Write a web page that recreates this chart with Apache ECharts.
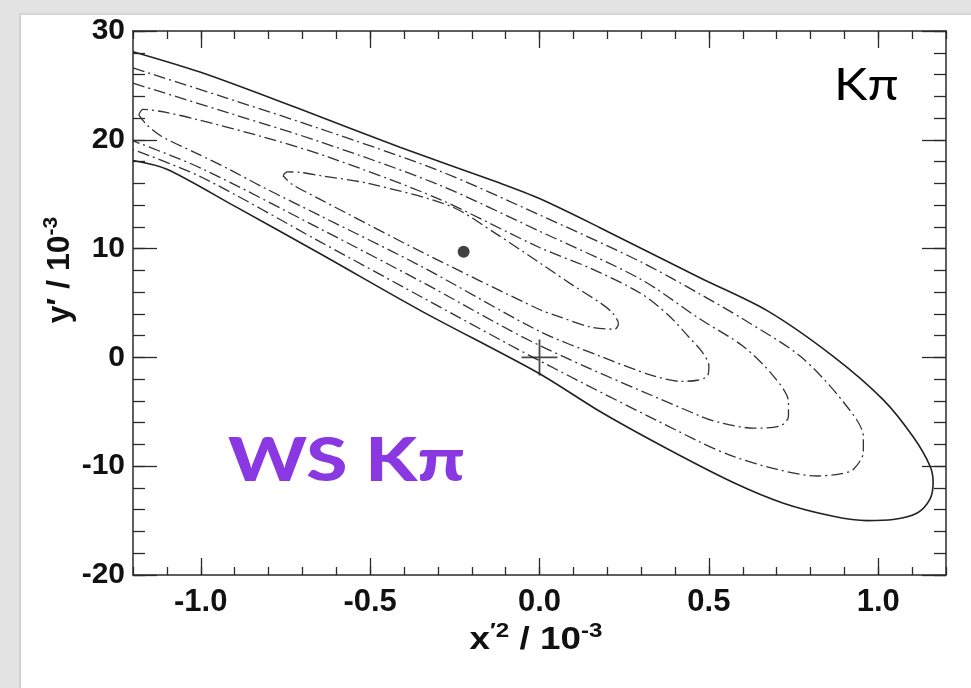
<!DOCTYPE html>
<html>
<head>
<meta charset="utf-8">
<script src="https://cdn.jsdelivr.net/npm/echarts@6/dist/echarts.min.js"></script>
<style>
  html, body { margin: 0; padding: 0; background: #ffffff; }
  #chart { width: 971px; height: 688px; }
</style>
</head>
<body>
<div id="chart"></div>
<script>
// Tick positions
const xMajorTicks = [-1.0, -0.5, 0.0, 0.5, 1.0];
const yMajorTicks = [-20, -10, 0, 10, 20, 30];

// Outermost (solid) contour, runs off the left edge of the frame
const contourSolid = [
  [-1.2, 28.1], [-1.0, 26.2], [-0.705, 22.8], [-0.41, 19.3], [-0.115, 16.0], [0.0, 14.6],
  [0.18, 11.9], [0.475, 7.3], [0.672, 4.3], [0.867, 0.1], [1.015, -3.9], [1.103, -7.3],
  [1.153, -10.0], [1.162, -11.5], [1.153, -13.0], [1.115, -14.3], [1.044, -14.9], [0.967, -15.0],
  [0.867, -14.6], [0.72, -13.4], [0.572, -11.5], [0.377, -8.4], [0.18, -5.0], [0.0, -1.5],
  [-0.351, 4.3], [-0.646, 9.5], [-0.9, 13.9], [-1.1, 17.3], [-1.2, 18.1]
];

// Dash-dot contours, from outer to inner
const contourA = [
  [-1.2, 26.6], [-0.9, 23.6], [-0.646, 21.0], [-0.3, 17.2], [0.0, 13.1], [0.298, 8.8],
  [0.475, 5.8], [0.602, 3.5], [0.77, 0.1], [0.897, -4.1], [0.956, -7.3], [0.956, -8.7],
  [0.926, -10.3], [0.888, -10.7], [0.82, -10.9], [0.702, -10.3], [0.572, -9.1], [0.475, -7.8],
  [0.0, -0.3], [-0.351, 5.6], [-0.646, 10.6], [-1.0, 16.6], [-1.2, 19.1]
];
const contourB = [
  [-1.2, 25.2], [-0.9, 22.3], [-0.646, 19.8], [-0.3, 15.9], [0.0, 11.6], [0.298, 7.2],
  [0.475, 3.5], [0.602, 1.0], [0.69, -1.7], [0.735, -4.1], [0.735, -5.4], [0.711, -6.3],
  [0.631, -6.5], [0.534, -6.0], [0.475, -5.4], [0.0, 1.1], [-0.351, 7.0], [-0.646, 11.8],
  [-1.0, 17.4], [-1.2, 19.9]
];
const contourC = [
  [-1.183, 22.3], [-1.17, 22.8], [-1.1, 22.5], [-1.016, 21.9], [-0.82, 20.3], [-0.622, 18.4],
  [-0.3, 14.6], [0.0, 10.1], [0.15, 8.2], [0.298, 5.9], [0.38, 3.9], [0.44, 1.9], [0.48, 0.5],
  [0.5, -0.8], [0.496, -1.7], [0.466, -2.1], [0.416, -2.2], [0.327, -1.6], [0.18, 0.1], [0.0, 2.4],
  [-0.351, 8.4], [-0.646, 13.0], [-0.82, 15.7], [-0.917, 17.3], [-1.015, 18.8], [-1.115, 20.3],
  [-1.16, 21.4], [-1.183, 22.3]
];
const contourD = [
  [-0.757, 16.7], [-0.745, 17.05], [-0.705, 17.0], [-0.646, 16.7], [-0.507, 16.0], [-0.263, 13.9],
  [-0.13, 11.4], [0.0, 8.7], [0.1, 6.6], [0.18, 5.0], [0.215, 4.1], [0.233, 3.1],
  [0.222, 2.6], [0.15, 2.8], [0.062, 3.7], [0.0, 4.4], [-0.342, 9.6], [-0.646, 14.5],
  [-0.73, 15.9], [-0.757, 16.7]
];

// Best-fit point and the no-mixing point
const bestFit = [[-0.224, 9.7]];
const noMixing = [[0.0, 0.0]];

const axisColor = '#2a2a2a';
const xLabelFont = { fontFamily: 'Liberation Sans', fontWeight: 'bold', fontSize: 31, color: '#111' };
const yLabelFont = { fontFamily: 'Liberation Sans', fontWeight: 'bold', fontSize: 30, color: '#111' };

function xAxisDef(position, major, labels) {
  const ax = {
    type: 'value', gridIndex: 0, position: position, min: -1.2, max: 1.2,
    axisLine: { show: major, onZero: false, lineStyle: { color: axisColor, width: 1.5 } },
    axisTick: { show: true, inside: true, length: major ? 17 : 8, lineStyle: { color: axisColor, width: 1.3 } },
    axisLabel: Object.assign({ show: labels, margin: 12, formatter: v => v.toFixed(1) }, xLabelFont),
    splitLine: { show: false }
  };
  if (major) {
    ax.axisTick.customValues = xMajorTicks;
    ax.axisLabel.customValues = xMajorTicks;
  } else {
    ax.interval = 0.1;
  }
  return ax;
}

function yAxisDef(position, major, labels) {
  return {
    type: 'value', gridIndex: 0, position: position, min: -20, max: 30,
    interval: major ? 10 : 2,
    axisLine: { show: major, onZero: false, lineStyle: { color: axisColor, width: 1.5 } },
    axisTick: { show: true, inside: true, length: major ? 24 : 12, lineStyle: { color: axisColor, width: 1.3 } },
    axisLabel: Object.assign({ show: labels, margin: 8, formatter: v => String(v) }, yLabelFont),
    splitLine: { show: false }
  };
}

const dashDot = { color: '#333', width: 1.3, type: [12, 4, 2, 4] };

function contourSeries(name, data, lineStyle) {
  return {
    name: name, type: 'line', xAxisIndex: 0, yAxisIndex: 0,
    data: data, showSymbol: false, symbol: 'none', smooth: 0.3,
    lineStyle: lineStyle, clip: true, silent: true, animation: false, z: 3
  };
}

const titleRich = {
  m: { fontFamily: 'Liberation Sans', fontWeight: 'bold', fontSize: 32, lineHeight: 38, fill: '#111' },
  s: { fontFamily: 'Liberation Sans', fontWeight: 'bold', fontSize: 21, lineHeight: 21, verticalAlign: 'top', fill: '#111' }
};

const chart = echarts.init(document.getElementById('chart'), null, { renderer: 'canvas' });

chart.setOption({
  animation: false,
  backgroundColor: '#ffffff',
  grid: { left: 133, top: 31, right: 25, bottom: 113, containLabel: false, outerBoundsMode: 'none' },
  xAxis: [
    xAxisDef('bottom', true, true),
    xAxisDef('bottom', false, false),
    xAxisDef('top', true, false),
    xAxisDef('top', false, false)
  ],
  yAxis: [
    yAxisDef('left', true, true),
    yAxisDef('left', false, false),
    yAxisDef('right', true, false),
    yAxisDef('right', false, false)
  ],
  series: [
    contourSeries('solid', contourSolid, { color: '#222', width: 1.6, type: 'solid' }),
    contourSeries('A', contourA, dashDot),
    contourSeries('B', contourB, dashDot),
    contourSeries('C', contourC, dashDot),
    contourSeries('D', contourD, dashDot),
    {
      name: 'best fit', type: 'scatter', xAxisIndex: 0, yAxisIndex: 0,
      data: bestFit, symbol: 'circle', symbolSize: 12,
      itemStyle: { color: '#111' }, silent: true, z: 4
    },
    {
      name: 'no mixing', type: 'scatter', xAxisIndex: 0, yAxisIndex: 0,
      data: noMixing, symbol: 'path://M10,0L10,20M0,10L20,10', symbolSize: 36,
      itemStyle: { color: 'none', borderColor: '#1a1a1a', borderWidth: 1.8 }, silent: true, z: 4
    }
  ],
  graphic: [
    // light grey page margins
    { type: 'rect', shape: { x: 0, y: 0, width: 21, height: 688 }, style: { fill: '#e3e3e3' }, z: -10, silent: true },
    { type: 'rect', shape: { x: 0, y: 0, width: 971, height: 15 }, style: { fill: '#e3e3e3' }, z: -10, silent: true },
    { type: 'rect', shape: { x: 19, y: 13, width: 2, height: 675 }, style: { fill: '#d2d2d2' }, z: -9, silent: true },
    { type: 'rect', shape: { x: 19, y: 13, width: 952, height: 2 }, style: { fill: '#d6d6d6' }, z: -9, silent: true },
    // axis titles
    {
      type: 'text', x: 536, y: 640, scaleX: 1.15, z: 10, silent: true,
      style: { text: '{m|x}{s|′2}{m| / 10}{s|-3}', align: 'center', verticalAlign: 'middle', rich: titleRich }
    },
    {
      type: 'text', x: 60, y: 270, rotation: Math.PI / 2, z: 10, silent: true,
      style: { text: '{m|y′ / 10}{s|-3}', align: 'center', verticalAlign: 'middle', rich: titleRich }
    },
    // channel labels
    {
      type: 'text', x: 834, y: 108, z: 10, silent: true, scaleX: 1.12,
      style: { text: 'Kπ', fontFamily: 'Lato', fontWeight: 'normal', fontSize: 45, fill: '#000', align: 'left', verticalAlign: 'bottom' }
    },
    {
      type: 'text', x: 228, y: 492, z: 10, silent: true, scaleX: 1.245,
      style: { text: 'WS Kπ', fontFamily: 'Lato', fontWeight: 900, fontSize: 60, fill: '#8a38e2', align: 'left', verticalAlign: 'bottom' }
    }
  ]
});
</script>
</body>
</html>
